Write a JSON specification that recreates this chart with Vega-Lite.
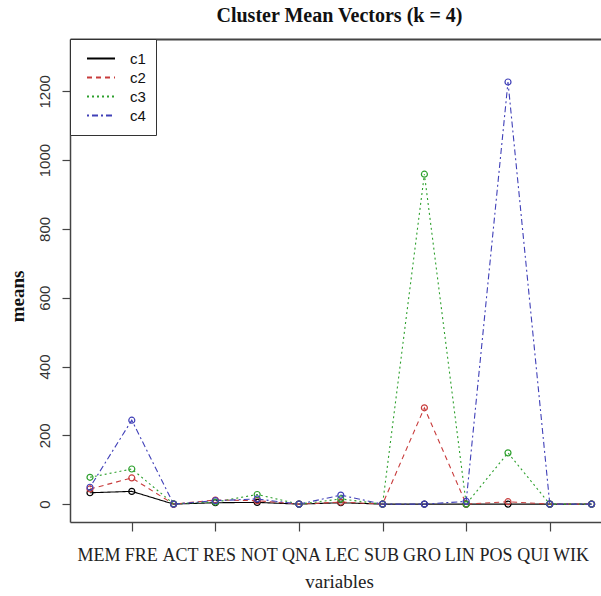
{
  "$schema": "https://vega.github.io/schema/vega-lite/v6.json",
  "autosize": {"type": "none"},
  "padding": {"left": 70, "top": 39, "right": 0, "bottom": 74},
  "width": 531,
  "height": 483,
  "background": "white",
  "title": {"text": "Cluster Mean Vectors (k = 4)", "font": "Liberation Serif", "fontSize": 20, "fontWeight": "bold", "color": "#111", "anchor": "middle", "baseline": "alphabetic", "offset": 16, "dx": 4, "dy": 19},
  "config": {"view": {"stroke": null}},
  "data": {"values": [
    {"cluster": "c1", "variable": "MEM", "mean": 33},
    {"cluster": "c1", "variable": "FRE", "mean": 37},
    {"cluster": "c1", "variable": "ACT", "mean": 0},
    {"cluster": "c1", "variable": "RES", "mean": 4},
    {"cluster": "c1", "variable": "NOT", "mean": 5},
    {"cluster": "c1", "variable": "QNA", "mean": 0},
    {"cluster": "c1", "variable": "LEC", "mean": 4},
    {"cluster": "c1", "variable": "SUB", "mean": 0},
    {"cluster": "c1", "variable": "GRO", "mean": 0},
    {"cluster": "c1", "variable": "LIN", "mean": 0},
    {"cluster": "c1", "variable": "POS", "mean": 0},
    {"cluster": "c1", "variable": "QUI", "mean": 0},
    {"cluster": "c1", "variable": "WIK", "mean": 0},
    {"cluster": "c2", "variable": "MEM", "mean": 44},
    {"cluster": "c2", "variable": "FRE", "mean": 76},
    {"cluster": "c2", "variable": "ACT", "mean": 0},
    {"cluster": "c2", "variable": "RES", "mean": 12},
    {"cluster": "c2", "variable": "NOT", "mean": 10},
    {"cluster": "c2", "variable": "QNA", "mean": 0},
    {"cluster": "c2", "variable": "LEC", "mean": 6},
    {"cluster": "c2", "variable": "SUB", "mean": 0},
    {"cluster": "c2", "variable": "GRO", "mean": 280},
    {"cluster": "c2", "variable": "LIN", "mean": 0},
    {"cluster": "c2", "variable": "POS", "mean": 7},
    {"cluster": "c2", "variable": "QUI", "mean": 0},
    {"cluster": "c2", "variable": "WIK", "mean": 0},
    {"cluster": "c3", "variable": "MEM", "mean": 78},
    {"cluster": "c3", "variable": "FRE", "mean": 102},
    {"cluster": "c3", "variable": "ACT", "mean": 1},
    {"cluster": "c3", "variable": "RES", "mean": 6},
    {"cluster": "c3", "variable": "NOT", "mean": 28},
    {"cluster": "c3", "variable": "QNA", "mean": 0},
    {"cluster": "c3", "variable": "LEC", "mean": 15},
    {"cluster": "c3", "variable": "SUB", "mean": 0},
    {"cluster": "c3", "variable": "GRO", "mean": 959},
    {"cluster": "c3", "variable": "LIN", "mean": 0},
    {"cluster": "c3", "variable": "POS", "mean": 149},
    {"cluster": "c3", "variable": "QUI", "mean": 0},
    {"cluster": "c3", "variable": "WIK", "mean": 0},
    {"cluster": "c4", "variable": "MEM", "mean": 49},
    {"cluster": "c4", "variable": "FRE", "mean": 244},
    {"cluster": "c4", "variable": "ACT", "mean": 0},
    {"cluster": "c4", "variable": "RES", "mean": 10},
    {"cluster": "c4", "variable": "NOT", "mean": 15},
    {"cluster": "c4", "variable": "QNA", "mean": 0},
    {"cluster": "c4", "variable": "LEC", "mean": 26},
    {"cluster": "c4", "variable": "SUB", "mean": 0},
    {"cluster": "c4", "variable": "GRO", "mean": 0},
    {"cluster": "c4", "variable": "LIN", "mean": 8},
    {"cluster": "c4", "variable": "POS", "mean": 1227},
    {"cluster": "c4", "variable": "QUI", "mean": 0},
    {"cluster": "c4", "variable": "WIK", "mean": 0}
  ]},
  "encoding": {
    "y": {
      "field": "mean", "type": "quantitative",
      "scale": {"domain": [-52, 1352], "nice": false, "zero": false},
      "axis": {
        "values": [0, 200, 400, 600, 800, 1000, 1200], "format": "d",
        "title": "means", "titleFont": "Liberation Serif", "titleFontSize": 19, "titleFontWeight": "bold", "titleColor": "#111",
        "titleAngle": 270, "titleX": -47, "titleY": 257, "titleBaseline": "alphabetic", "titleAlign": "center", "titleAnchor": "start",
        "labelAngle": 270, "labelAlign": "center", "labelBaseline": "bottom",
        "labelFont": "Liberation Sans", "labelFontSize": 15, "labelColor": "#333", "labelPadding": 10,
        "labelOverlap": false, "labelFlush": false,
        "tickSize": 8, "tickColor": "#444", "tickWidth": 1.2,
        "domainColor": "#444", "domainWidth": 1.5, "grid": false
      }
    }
  },
  "layer": [
    {
      "encoding": {
        "x": {
          "field": "variable", "type": "nominal",
          "sort": ["MEM","FRE","ACT","RES","NOT","QNA","LEC","SUB","GRO","LIN","POS","QUI","WIK"],
          "scale": {"type": "point", "padding": 0.3516, "align": 0.68},
          "axis": {
            "orient": "bottom",
            "title": "variables", "titleFont": "Liberation Serif", "titleFontSize": 19, "titleFontWeight": "normal", "titleColor": "#222",
            "titleX": 269, "titleY": 65, "titleBaseline": "alphabetic", "titleAlign": "center", "titleAnchor": "start",
            "labelFont": "Liberation Serif", "labelFontSize": 18, "labelColor": "#222", "labelAngle": 0,
            "labelBaseline": "alphabetic", "labelPadding": 29, "labelOverlap": false, "labelFlush": false,
            "labelOffset": {"condition": [
              {"test": "datum.value == 'MEM'", "value": 8.5},
              {"test": "datum.value == 'FRE'", "value": 9},
              {"test": "datum.value == 'ACT'", "value": 6.5},
              {"test": "datum.value == 'RES'", "value": 3.5},
              {"test": "datum.value == 'NOT'", "value": 1.5},
              {"test": "datum.value == 'QNA'", "value": 2},
              {"test": "datum.value == 'LEC'", "value": 1},
              {"test": "datum.value == 'SUB'", "value": -1.5},
              {"test": "datum.value == 'GRO'", "value": -3},
              {"test": "datum.value == 'LIN'", "value": -7},
              {"test": "datum.value == 'POS'", "value": -12.5},
              {"test": "datum.value == 'QUI'", "value": -17},
              {"test": "datum.value == 'WIK'", "value": -21}
            ], "value": 0},
            "tickSize": 9, "tickColor": "#444", "tickWidth": 1.2,
            "tickOpacity": {"condition": {"test": "indexof(['FRE','RES','QNA','SUB','LIN','QUI'], datum.value) >= 0", "value": 1}, "value": 0},
            "domainColor": "#444", "domainWidth": 1.5, "grid": false
          }
        }
      },
      "layer": [
        {
          "mark": {"type": "line", "strokeWidth": 1.1},
          "encoding": {
            "color": {
              "field": "cluster", "type": "nominal",
              "scale": {"domain": ["c1","c2","c3","c4"], "range": ["#000000","#C83C3C","#2EA02E","#4040B8"]},
              "legend": {"orient": "none", "legendX": 0, "legendY": 0, "title": null, "symbolType": "stroke", "symbolSize": 784, "symbolStrokeWidth": 2, "symbolOffset": 6, "labelOffset": 14, "labelFont": "Liberation Sans", "labelFontSize": 15, "labelColor": "#111", "padding": 10, "rowPadding": 0, "clipHeight": 19, "strokeColor": "#333", "fillColor": "white", "cornerRadius": 0}
            },
            "strokeDash": {
              "field": "cluster", "type": "nominal",
              "scale": {"domain": ["c1","c2","c3","c4"], "range": [[1,0],[5,4],[2,3],[2,3,6,3]]},
              "legend": {"orient": "none", "legendX": 0, "legendY": 0, "title": null, "symbolType": "stroke", "symbolSize": 784, "symbolStrokeWidth": 2, "symbolOffset": 6, "labelOffset": 14, "labelFont": "Liberation Sans", "labelFontSize": 15, "labelColor": "#111", "padding": 10, "rowPadding": 0, "clipHeight": 19, "strokeColor": "#333", "fillColor": "white", "cornerRadius": 0}
            }
          }
        },
        {
          "mark": {"type": "point", "filled": false, "size": 36, "strokeWidth": 1.2, "opacity": 1},
          "encoding": {
            "stroke": {
              "field": "cluster", "type": "nominal",
              "scale": {"domain": ["c1","c2","c3","c4"], "range": ["#000000","#C83C3C","#2EA02E","#4040B8"]},
              "legend": null
            }
          }
        }
      ]
    },
    {
      "mark": {"type": "point", "opacity": 0},
      "encoding": {
        "x": {
          "field": "variable", "type": "nominal",
          "sort": ["MEM","FRE","ACT","RES","NOT","QNA","LEC","SUB","GRO","LIN","POS","QUI","WIK"],
          "axis": {"orient": "top", "labels": false, "ticks": false, "title": null, "domainColor": "#444", "domainWidth": 2, "grid": false}
        }
      }
    }
  ],
  "resolve": {"axis": {"x": "independent"}}
}
